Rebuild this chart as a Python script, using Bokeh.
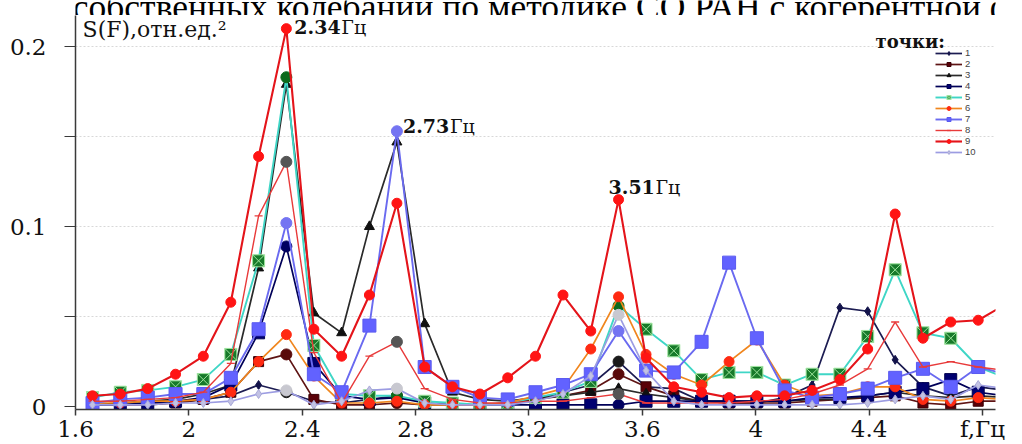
from bokeh.plotting import figure
from bokeh.layouts import column
from bokeh.models import FixedTicker, Legend, LegendItem, Label, ColumnDataSource, Range1d
from bokeh.embed import file_html
from bokeh.resources import INLINE

# ---------------- data ----------------
freqs = [1.660, 1.758, 1.855, 1.953, 2.051, 2.148, 2.246, 2.344, 2.441, 2.539,
         2.637, 2.734, 2.832, 2.930, 3.027, 3.125, 3.223, 3.320, 3.418, 3.516,
         3.613, 3.711, 3.809, 3.906, 4.004, 4.102, 4.199, 4.297, 4.395, 4.492,
         4.590, 4.688, 4.785, 4.883]

s1 = [0.001, 0.001, 0.002, 0.002, 0.004, 0.006, 0.012, 0.008, 0.003, 0.002,
      0.004, 0.006, 0.002, 0.001, 0.001, 0.002, 0.004, 0.008, 0.012, 0.025,
      0.011, 0.010, 0.003, 0.002, 0.002, 0.005, 0.012, 0.055, 0.053, 0.026,
      0.011, 0.006, 0.011, 0.009]
s2 = [0.001, 0.001, 0.001, 0.002, 0.004, 0.008, 0.025, 0.029, 0.004, 0.001,
      0.001, 0.002, 0.001, 0.001, 0.001, 0.002, 0.004, 0.006, 0.009, 0.018,
      0.011, 0.006, 0.003, 0.002, 0.002, 0.002, 0.003, 0.004, 0.005, 0.006,
      0.002, 0.001, 0.003, 0.003]
s3 = [0.001, 0.002, 0.003, 0.004, 0.007, 0.012, 0.077, 0.179, 0.052, 0.041,
      0.100, 0.147, 0.046, 0.008, 0.004, 0.003, 0.005, 0.006, 0.008, 0.010,
      0.007, 0.005, 0.003, 0.003, 0.003, 0.003, 0.004, 0.004, 0.006, 0.008,
      0.006, 0.005, 0.006, 0.005]
s4 = [0.001, 0.001, 0.002, 0.003, 0.005, 0.012, 0.041, 0.089, 0.024, 0.006,
      0.004, 0.005, 0.002, 0.001, 0.001, 0.001, 0.001, 0.001, 0.001, 0.001,
      0.003, 0.003, 0.003, 0.003, 0.003, 0.003, 0.005, 0.005, 0.006, 0.008,
      0.010, 0.015, 0.008, 0.006]
s5 = [0.005, 0.008, 0.009, 0.011, 0.015, 0.029, 0.081, 0.183, 0.034, 0.007,
      0.006, 0.006, 0.003, 0.002, 0.001, 0.002, 0.005, 0.008, 0.014, 0.056,
      0.043, 0.031, 0.015, 0.019, 0.019, 0.012, 0.018, 0.018, 0.039, 0.076,
      0.041, 0.038, 0.022, 0.016]
s6 = [0.002, 0.002, 0.003, 0.003, 0.004, 0.008, 0.025, 0.040, 0.017, 0.002,
      0.002, 0.003, 0.001, 0.001, 0.001, 0.002, 0.006, 0.010, 0.032, 0.061,
      0.029, 0.018, 0.012, 0.025, 0.037, 0.012, 0.006, 0.007, 0.011, 0.011,
      0.004, 0.003, 0.005, 0.004]
s7 = [0.002, 0.004, 0.005, 0.007, 0.007, 0.016, 0.043, 0.102, 0.018, 0.008,
      0.045, 0.153, 0.022, 0.011, 0.005, 0.004, 0.008, 0.012, 0.018, 0.042,
      0.020, 0.019, 0.036, 0.080, 0.038, 0.009, 0.005, 0.007, 0.010, 0.016,
      0.021, 0.011, 0.022, 0.018]
s8 = [0.003, 0.003, 0.004, 0.005, 0.008, 0.024, 0.106, 0.136, 0.030, 0.002,
      0.028, 0.036, 0.010, 0.004, 0.002, 0.002, 0.003, 0.003, 0.005, 0.007,
      0.002, 0.002, 0.002, 0.002, 0.003, 0.004, 0.007, 0.012, 0.021, 0.047,
      0.022, 0.025, 0.022, 0.020]
s9 = [0.006, 0.007, 0.010, 0.018, 0.028, 0.058, 0.139, 0.210, 0.043, 0.028,
      0.062, 0.113, 0.022, 0.011, 0.007, 0.016, 0.028, 0.062, 0.042, 0.115,
      0.027, 0.011, 0.008, 0.005, 0.006, 0.006, 0.009, 0.015, 0.032, 0.107,
      0.038, 0.047, 0.048, 0.057]
s10 = [0.001, 0.001, 0.001, 0.002, 0.002, 0.003, 0.007, 0.009, 0.001, 0.003,
       0.009, 0.010, 0.002, 0.001, 0.001, 0.001, 0.003, 0.007, 0.017, 0.051,
       0.020, 0.003, 0.001, 0.001, 0.001, 0.001, 0.001, 0.001, 0.002, 0.004,
       0.006, 0.004, 0.012, 0.010]

series_names = ["1", "2", "3", "4", "5", "6", "7", "8", "9", "10"]
series_values = [s1, s2, s3, s4, s5, s6, s7, s8, s9, s10]
peak_idx = [7, 11, 19]           # 2.34, 2.73, 3.51 Hz
peak_labels = ["2.34", "2.73", "3.51"]

x_ticks = [1.6, 2.0, 2.4, 2.8, 3.2, 3.6, 4.0, 4.4, 4.8]
x_tick_labels = ["1.6", "2", "2.4", "2.8", "3.2", "3.6", "4", "4.4", "f,Гц"]
y_ticks = [0.0, 0.1, 0.2]
y_tick_labels = ["0", "0.1", "0.2"]
y_minor = [0.05, 0.15]

caption = "собственных колебаний по методике СО РАН с когерентной фильтрацией"

# ---------------- styles ----------------
line_colors = ["#1c1c52", "#5e1414", "#2a2a2a", "#000058", "#3fd6c6",
               "#f0861e", "#6a6af0", "#e83a3a", "#e4141a", "#9c9ce2"]
marker_types = ["diamond", "square", "triangle", "square", "square_x",
                "circle", "square", "dash", "circle", "diamond"]
marker_fill = ["#13134a", "#5a0008", "#101010", "#000070", "#177a2a",
               "#ff2a12", "#6262ff", "#e83a3a", "#ff1414", "#c2c2e4"]
marker_line = ["#13134a", "#3a0006", "#101010", "#000050", "#9ee59e",
               "#ff2a12", "#5a5af0", "#e83a3a", "#ff1414", "#a8a8d8"]
marker_size = [9, 10, 10, 12, 12, 10, 13, 8, 10, 9]
line_width = [1.7, 1.7, 1.7, 1.7, 1.9, 1.7, 1.9, 1.4, 2.1, 1.7]
peak_color = ["#1a1a1a", "#5a0a0a", None, "#000060", "#0c6a1c",
              "#ff2a1a", "#7474f2", "#555555", "#ff1414", "#c8c8d0"]

serif = "DejaVu Serif"
times = "Liberation Serif"

# ---------------- header strip (cut-off caption of the page) ----------------
head = figure(width=1022, height=15, output_backend="svg", toolbar_location=None,
              x_range=Range1d(0, 1022), y_range=Range1d(0, 15),
              min_border=0, outline_line_color=None)
head.axis.visible = False
head.grid.visible = False
head.add_layout(Label(x=-3, y=8.8, text=caption, text_font=times, text_font_size="35.5px",
                      text_baseline="middle", text_color="#000000"))

# ---------------- main chart ----------------
p = figure(width=1022, height=429, output_backend="svg", toolbar_location=None,
           x_range=Range1d(1.6, 4.846), y_range=Range1d(-0.0016, 0.2173),
           min_border_left=75, min_border_right=27, min_border_top=0,
           min_border_bottom=32, outline_line_color=None,
           background_fill_color="white", border_fill_color="white")

p.xgrid.visible = False
p.ygrid.ticker = FixedTicker(ticks=[0.05, 0.1, 0.15, 0.2])
p.ygrid.grid_line_color = "#d8d8d8"
p.ygrid.grid_line_dash = "2 2"
p.ygrid.grid_line_width = 1

xa = p.xaxis[0]
xa.ticker = FixedTicker(ticks=x_ticks)
xa.major_label_overrides = {t: l for t, l in zip(x_ticks, x_tick_labels)}
xa.major_label_text_font = serif
xa.major_label_text_font_size = "23px"
xa.major_label_text_color = "#111111"
xa.major_label_standoff = 0
xa.major_tick_out = 6
xa.major_tick_in = 0
xa.minor_tick_line_color = None
xa.axis_line_color = "#3a3a3a"
xa.axis_line_width = 1.5
xa.major_tick_line_color = "#3a3a3a"
xa.major_tick_line_width = 1.5

ya = p.yaxis[0]
ya.ticker = FixedTicker(ticks=y_ticks, minor_ticks=y_minor)
ya.major_label_overrides = {t: l for t, l in zip(y_ticks, y_tick_labels)}
ya.major_label_text_font = serif
ya.major_label_text_font_size = "23px"
ya.major_label_text_color = "#111111"
ya.major_label_standoff = 18
ya.major_tick_out = 11
ya.major_tick_in = 0
ya.minor_tick_out = 11
ya.minor_tick_in = 0
ya.axis_line_color = "#3a3a3a"
ya.axis_line_width = 1.5
ya.major_tick_line_color = "#3a3a3a"
ya.minor_tick_line_color = "#3a3a3a"
ya.major_tick_line_width = 1.2
ya.minor_tick_line_width = 1.2

legend_items = []
for i, (name, vals) in enumerate(zip(series_names, series_values)):
    src = ColumnDataSource(dict(x=freqs, y=vals))
    lr = p.line("x", "y", source=src, line_color=line_colors[i], line_width=line_width[i])
    special = peak_color[i] is not None and marker_types[i] != "circle"
    keep = [j for j in range(len(freqs)) if not (special and j in peak_idx)]
    msrc = ColumnDataSource(dict(x=[freqs[j] for j in keep], y=[vals[j] for j in keep]))
    mr = p.scatter("x", "y", source=msrc, marker=marker_types[i], size=marker_size[i],
                   fill_color=marker_fill[i], line_color=marker_line[i],
                   line_width=1.3 if marker_types[i] == "dash" else 1)
    if special:
        psrc = ColumnDataSource(dict(x=[freqs[j] for j in peak_idx], y=[vals[j] for j in peak_idx]))
        p.scatter("x", "y", source=psrc, marker="circle", size=11,
                  fill_color=peak_color[i], line_color=peak_color[i])
    legend_items.append(LegendItem(label=name, renderers=[lr, mr]))

legend = Legend(items=legend_items, location=(860, 252), orientation="vertical",
                padding=0, margin=0, spacing=0, glyph_width=27, glyph_height=10,
                label_height=10, label_standoff=3, label_text_font="Liberation Sans",
                label_text_font_size="9.5px",
                border_line_color=None, background_fill_alpha=0)
p.add_layout(legend, "center")

# ---------------- texts ----------------
p.add_layout(Label(x=4.423, y=0.203, text="точки:", text_font=serif, text_font_style="bold",
                   text_font_size="18px", text_baseline="middle", text_color="#111111"))
p.add_layout(Label(x=1.625, y=0.2096, text="S(F),отн.ед.²", text_font=serif,
                   text_font_size="22px", text_baseline="middle", text_color="#111111"))

peak_series = [s9, s7, s9]
offsets = [(8, 2), (6, 5), (-10, 13)]
for (j, lab, vals, (dx, dy)) in zip(peak_idx, peak_labels, peak_series, offsets):
    p.add_layout(Label(x=freqs[j], y=vals[j], x_offset=dx, y_offset=dy, text=lab,
                       text_font=serif, text_font_style="bold", text_font_size="19px",
                       text_baseline="middle", text_color="#111111"))
    p.add_layout(Label(x=freqs[j], y=vals[j], x_offset=dx + 47, y_offset=dy, text="Гц",
                       text_font=serif, text_font_size="19px",
                       text_baseline="middle", text_color="#111111"))

layout = column(head, p, spacing=0)
open("out.html", "w").write(file_html(layout, INLINE))
